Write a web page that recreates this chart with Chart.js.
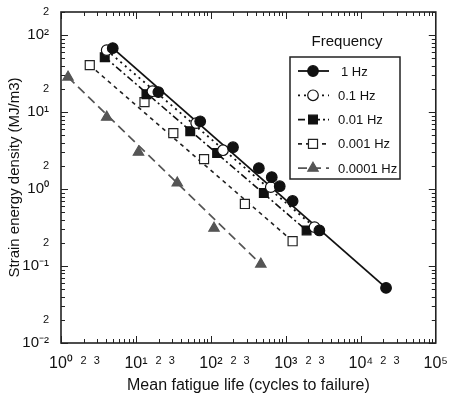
<!DOCTYPE html>
<html>
<head>
<meta charset="utf-8">
<script src="https://cdn.jsdelivr.net/npm/chart.js@4/dist/chart.umd.min.js"></script>
<style>
  html, body { margin: 0; padding: 0; background: #fff; }
</style>
</head>
<body>
<canvas id="chart" width="451" height="398"></canvas>
<script>
// Frequencies (legend)
const frequencies = ['1 Hz', '0.1 Hz', '0.01 Hz', '0.001 Hz', '0.0001 Hz'];

// Mean fatigue life (cycles) and strain energy density (MJ/m3) per frequency
const life1Hz = [4.9, 19.9, 72, 197, 436, 648, 828, 1230, 2800, 21700];
const energy1Hz = [67.8, 18.2, 7.6, 3.5, 1.87, 1.43, 1.09, 0.70, 0.29, 0.052];
const life01Hz = [4.07, 16.6, 63.6, 145, 629, 2410];
const energy01Hz = [63.9, 18.7, 7.2, 3.2, 1.06, 0.32];
const life001Hz = [3.83, 13.8, 53, 121, 508, 1890];
const energy001Hz = [51.8, 17.1, 5.66, 2.94, 0.89, 0.29];
const life0001Hz = [2.42, 13.0, 31.5, 81, 284, 1230];
const energy0001Hz = [40.8, 13.5, 5.34, 2.45, 0.64, 0.21];
const life00001Hz = [1.24, 4.07, 10.8, 35.6, 110, 463];
const energy00001Hz = [28.5, 8.6, 3.02, 1.2, 0.31, 0.106];

// Fitted lines (start, end)
const fitLife = [[4.9, 21700], [4.07, 2410], [3.83, 1890], [2.42, 1230], [1.24, 463]];
const fitEnergy = [[67.8, 0.052], [63.9, 0.32], [51.8, 0.29], [40.8, 0.21], [28.5, 0.106]];

// Tick values
const xTicks = [1, 2, 3, 10, 20, 30, 100, 200, 300, 1000, 2000, 3000, 10000, 20000, 30000, 100000];
const yTicks = [0.01, 0.02, 0.1, 0.2, 1, 2, 10, 20, 100, 200];

const FONT = '"Liberation Sans Narrow", "Arial Narrow", "Liberation Sans", Arial, sans-serif';
const sup = { '-': '\u207B', '0': '\u2070', '1': '\u00B9', '2': '\u00B2', '3': '\u00B3', '4': '\u2074', '5': '\u2075' };

function isPow10(v) {
  const e = Math.round(Math.log10(v));
  return Math.abs(v - Math.pow(10, e)) < 1e-9 * Math.pow(10, e);
}
function logLabel(v) {
  if (isPow10(v)) {
    const e = Math.round(Math.log10(v));
    return '10' + String(e).split('').map(c => sup[c]).join('');
  }
  return String(Math.round(v / Math.pow(10, Math.floor(Math.log10(v) + 1e-9))));
}

const styles = [
  { color: '#111', pointStyle: 'circle', radius: 5.3, fill: '#111', dash: [], width: 1.8 },
  { color: '#111', pointStyle: 'circle', radius: 5.3, fill: '#fff', dash: [2, 4], width: 1.8 },
  { color: '#111', pointStyle: 'rect', radius: 6.2, fill: '#111', dash: [7, 3, 2, 3], width: 1.6 },
  { color: '#222', pointStyle: 'rect', radius: 6.4, fill: '#fff', dash: [4, 4], width: 1.6 },
  { color: '#555', pointStyle: 'triangle', radius: 6, fill: '#555', dash: [9, 5], width: 1.7 }
];
const lifeData = [life1Hz, life01Hz, life001Hz, life0001Hz, life00001Hz];
const energyData = [energy1Hz, energy01Hz, energy001Hz, energy0001Hz, energy00001Hz];

const datasets = [];
frequencies.forEach((f, i) => {
  const s = styles[i];
  datasets.push({
    label: f,
    data: lifeData[i].map((x, k) => ({ x: x, y: energyData[i][k] })),
    showLine: false,
    pointStyle: s.pointStyle,
    pointRadius: s.radius,
    pointBackgroundColor: s.fill,
    pointBorderColor: s.color,
    pointBorderWidth: 1.2,
    order: 0
  });
  datasets.push({
    label: f + ' fit',
    data: fitLife[i].map((x, k) => ({ x: x, y: fitEnergy[i][k] })),
    showLine: true,
    pointRadius: 0,
    borderColor: s.color,
    borderWidth: s.width,
    borderDash: s.dash,
    order: 1
  });
});

// frame with inward ticks on all four sides
const frameTicks = {
  id: 'frameTicks',
  beforeDatasetsDraw(chart) {
    const { ctx, chartArea: a, scales: { x, y } } = chart;
    ctx.save();
    ctx.strokeStyle = '#222';
    ctx.lineWidth = 1;
    for (let e = 0; e < 5; e++) {
      for (let m = 1; m <= 9; m++) {
        const px = Math.round(x.getPixelForValue(m * Math.pow(10, e))) + 0.5;
        const len = m === 1 ? 7 : 4;
        ctx.beginPath();
        ctx.moveTo(px, a.bottom); ctx.lineTo(px, a.bottom - len);
        ctx.moveTo(px, a.top); ctx.lineTo(px, a.top + len);
        ctx.stroke();
      }
    }
    for (let e = -2; e <= 2; e++) {
      for (let m = 1; m <= 9; m++) {
        const v = m * Math.pow(10, e);
        if (v > 200) break;
        const py = Math.round(y.getPixelForValue(v)) + 0.5;
        const len = m === 1 ? 7 : 4;
        ctx.beginPath();
        ctx.moveTo(a.left, py); ctx.lineTo(a.left + len, py);
        ctx.moveTo(a.right, py); ctx.lineTo(a.right - len, py);
        ctx.stroke();
      }
    }
    ctx.lineWidth = 1.6;
    ctx.strokeRect(a.left, a.top, a.right - a.left, a.bottom - a.top);
    ctx.restore();
  }
};

// legend box inside the plot
const boxLegend = {
  id: 'boxLegend',
  afterDatasetsDraw(chart) {
    const ctx = chart.ctx;
    ctx.save();
    ctx.fillStyle = '#fff';
    ctx.fillRect(290, 57, 110, 122);
    ctx.strokeStyle = '#222';
    ctx.lineWidth = 1.5;
    ctx.strokeRect(290, 57, 110, 122);
    ctx.fillStyle = '#111';
    ctx.font = '15px ' + FONT;
    ctx.textAlign = 'center';
    ctx.textBaseline = 'middle';
    ctx.fillText('Frequency', 347, 42);
    ctx.textAlign = 'left';
    ctx.font = '13px ' + FONT;
    frequencies.forEach((f, i) => {
      const s = styles[i];
      const yy = 71 + i * 24.3;
      ctx.strokeStyle = s.color;
      ctx.lineWidth = s.width;
      ctx.setLineDash(s.dash);
      ctx.beginPath();
      ctx.moveTo(298, yy); ctx.lineTo(329, yy);
      ctx.stroke();
      ctx.setLineDash([]);
      ctx.fillStyle = s.fill;
      ctx.strokeStyle = s.color;
      ctx.lineWidth = 1.2;
      Chart.helpers.drawPoint(ctx, { pointStyle: s.pointStyle, radius: s.radius, rotation: 0, borderWidth: 1.2 }, 313, yy);
      ctx.fillStyle = '#111';
      ctx.fillText(f, i === 0 ? 341 : 338, yy + 1);
    });
    ctx.restore();
  }
};

new Chart(document.getElementById('chart').getContext('2d'), {
  type: 'scatter',
  data: { datasets: datasets },
  options: {
    responsive: false,
    animation: false,
    devicePixelRatio: 1,
    layout: { padding: { top: 12, right: 13, left: 0, bottom: 0 } },
    plugins: { legend: { display: false }, tooltip: { enabled: false } },
    scales: {
      x: {
        type: 'logarithmic',
        min: 1,
        max: 100000,
        afterFit: s => { s.height = 55; },
        afterBuildTicks: s => { s.ticks = xTicks.map(v => ({ value: v, major: isPow10(v) })); },
        grid: { display: false },
        border: { display: false },
        ticks: {
          autoSkip: false,
          maxRotation: 0,
          padding: 3,
          color: '#111',
          font: c => ({ family: FONT, size: c.tick && isPow10(c.tick.value) ? 16 : 11 }),
          callback: v => logLabel(v)
        },
        title: {
          display: true,
          text: 'Mean fatigue life (cycles to failure)',
          color: '#111',
          font: { family: FONT, size: 16 },
          padding: { top: 0, bottom: 3 }
        }
      },
      y: {
        type: 'logarithmic',
        min: 0.01,
        max: 200,
        afterFit: s => { s.width = 61; },
        afterBuildTicks: s => { s.ticks = yTicks.map(v => ({ value: v, major: isPow10(v) })); },
        grid: { display: false },
        border: { display: false },
        ticks: {
          autoSkip: false,
          padding: 4,
          color: '#111',
          font: c => ({ family: FONT, size: c.tick && isPow10(c.tick.value) ? 15 : 11 }),
          callback: v => logLabel(v)
        },
        title: {
          display: true,
          text: 'Strain energy density (MJ/m3)',
          color: '#111',
          font: { family: FONT, size: 15 },
          padding: { top: 6, bottom: 0 }
        }
      }
    }
  },
  plugins: [frameTicks, boxLegend]
});
</script>
</body>
</html>
